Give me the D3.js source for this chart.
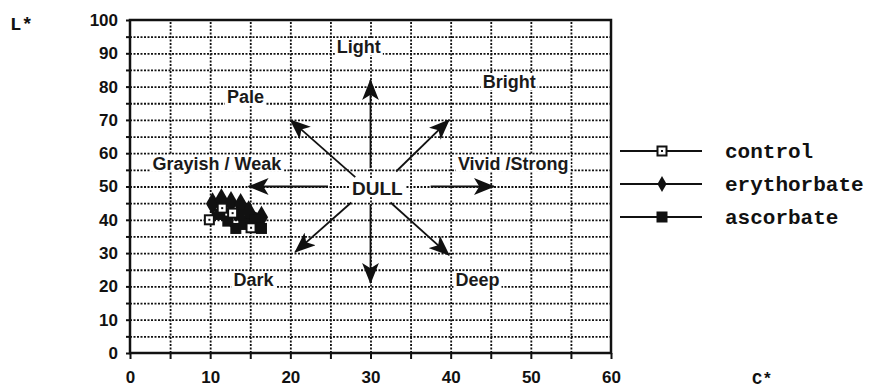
<!DOCTYPE html>
<html>
<head>
<meta charset="utf-8">
<script src="https://cdn.jsdelivr.net/npm/d3@7"></script>
<style>
  body { margin: 0; background: #fff; }
  .tick text { font-family: "Liberation Sans", Arial, sans-serif; font-weight: bold; font-size: 17px; fill: #111; }
  .lab { font-family: "Liberation Sans", Arial, sans-serif; font-weight: bold; font-size: 18px; fill: #1a1a1a; }
  .leg { font-family: "Liberation Mono", "Courier New", monospace; font-weight: bold; font-size: 21px; fill: #111; }
  .grid line { stroke: #111; stroke-width: 1.8; stroke-dasharray: 2,1.5; }
</style>
</head>
<body>
<div class="chart"></div>
<script>
var width = 876, height = 389;
var margin = {top: 20, right: 265, bottom: 36, left: 130};

// axis ticks
var xTicks = [0, 10, 20, 30, 40, 50, 60];
var yTicks = [0, 10, 20, 30, 40, 50, 60, 70, 80, 90, 100];

// measured points (C*, L*)
var controlPts = [[9.9, 40.0], [11.5, 43.5], [12.8, 42.0], [15.1, 37.6]];
var erythorbatePts = [[10.3, 44.8], [11.4, 46.0], [12.6, 45.2], [13.8, 44.6], [14.8, 42.4], [16.4, 40.8]];
var ascorbatePts = [[11.2, 41.6], [12.2, 39.6], [13.2, 37.4], [14.2, 38.6], [15.6, 39.8], [16.4, 37.4], [13.6, 41.4]];

// colour-direction arrows: start and tip (C*, L*)
var arrows = [
  [[30, 55.5], [30, 82]],
  [[30, 44.5], [30, 21]],
  [[24.7, 50], [14.8, 50]],
  [[37.5, 50], [45.4, 50]],
  [[28.1, 52.8], [20, 70]],
  [[33.2, 54.5], [39.8, 70]],
  [[27.6, 45.2], [20.6, 30.3]],
  [[32.5, 45.2], [39.8, 29.4]]
];

// region names: text, C* start, L* baseline
var regionNames = ['Light', 'Bright', 'Pale', 'Grayish / Weak', 'Vivid /Strong', 'DULL', 'Dark', 'Deep'];
var regionC = [25.8, 44.0, 12.1, 2.8, 40.9, 27.7, 12.9, 40.6];
var regionL = [90, 79.5, 75, 55, 55, 47.4, 20, 20];

var seriesNames = ['control', 'erythorbate', 'ascorbate'];

var svg = d3.select('.chart')
  .append('svg')
  .attr('width', width)
  .attr('height', height);

var x = d3.scaleLinear().domain([0, 60]).range([margin.left, width - margin.right]);
var y = d3.scaleLinear().domain([0, 100]).range([height - margin.bottom, margin.top]);

// GRID
svg.append('g')
  .attr('class', 'grid')
  .attr('transform', 'translate(0,' + y(0) + ')')
  .call(d3.axisBottom(x).tickValues(d3.range(5, 60, 5)).tickSize(-(y(0) - y(100))).tickFormat(''))
  .call(g => g.select('.domain').remove());

svg.append('g')
  .attr('class', 'grid')
  .attr('transform', 'translate(' + x(0) + ',0)')
  .call(d3.axisLeft(y).tickValues(d3.range(5, 100, 5)).tickSize(-(x(60) - x(0))).tickFormat(''))
  .call(g => g.select('.domain').remove());

// AXES
var xAxis = svg.append('g')
  .attr('transform', 'translate(0,' + y(0) + ')')
  .call(d3.axisBottom(x).tickValues(d3.range(0, 61, 5)).tickSize(6).tickPadding(12)
    .tickFormat(d => xTicks.indexOf(d) >= 0 ? d : ''));
xAxis.select('.domain').remove();
xAxis.selectAll('line').attr('stroke', '#111').attr('stroke-width', 2);

var yAxis = svg.append('g')
  .attr('transform', 'translate(' + x(0) + ',0)')
  .call(d3.axisLeft(y).tickValues(d3.range(0, 101, 5)).tickSize(4).tickPadding(8)
    .tickFormat(d => yTicks.indexOf(d) >= 0 ? d : ''));
yAxis.select('.domain').remove();
yAxis.selectAll('line').attr('stroke', '#111').attr('stroke-width', 2);

svg.append('rect')
  .attr('x', x(0)).attr('y', y(100))
  .attr('width', x(60) - x(0)).attr('height', y(0) - y(100))
  .attr('fill', 'none').attr('stroke', '#111').attr('stroke-width', 2.5);

svg.append('text').attr('class', 'leg').attr('x', 10).attr('y', 30).style('font-size', '19px').text('L*');
svg.append('text').attr('class', 'leg').attr('x', 752).attr('y', 384).style('font-size', '17px').text('C*');

// ARROWS
svg.append('defs').append('marker')
  .attr('id', 'head')
  .attr('viewBox', '0 0 20 16')
  .attr('refX', 19).attr('refY', 8)
  .attr('markerWidth', 21).attr('markerHeight', 17)
  .attr('markerUnits', 'userSpaceOnUse')
  .attr('orient', 'auto')
  .append('path')
  .attr('d', 'M0,0 L20,8 L0,16 L5,8 Z')
  .attr('fill', '#111');

svg.selectAll('.arrow')
  .data(arrows)
  .enter()
  .append('line')
  .attr('class', 'arrow')
  .attr('x1', d => x(d[0][0])).attr('y1', d => y(d[0][1]))
  .attr('x2', d => x(d[1][0])).attr('y2', d => y(d[1][1]))
  .attr('stroke', '#111').attr('stroke-width', 1.8)
  .attr('marker-end', 'url(#head)');

// REGION LABELS
var labels = svg.selectAll('.labg')
  .data(regionNames)
  .enter()
  .append('g')
  .attr('class', 'labg');

labels.append('text')
  .attr('class', 'lab')
  .attr('x', (d, i) => x(regionC[i]))
  .attr('y', (d, i) => y(regionL[i]))
  .style('font-size', (d, i) => d === 'DULL' ? '19px' : '18px')
  .text(d => d);

labels.each(function() {
  var g = d3.select(this);
  var b = g.select('text').node().getBBox();
  g.insert('rect', 'text')
    .attr('x', b.x - 2).attr('y', b.y + 1)
    .attr('width', b.width + 4).attr('height', b.height - 3)
    .attr('fill', '#fff');
});

// DATA
function marker(sel, kind, s) {
  if (kind === 0) {
    sel.append('rect').attr('x', -s / 2).attr('y', -s / 2).attr('width', s).attr('height', s)
      .attr('fill', '#fff').attr('stroke', '#111').attr('stroke-width', 2);
    sel.append('rect').attr('x', -1).attr('y', -1).attr('width', 2).attr('height', 2).attr('fill', '#111');
  } else if (kind === 1) {
    sel.append('path').attr('d', d3.symbol(d3.symbolDiamond, s * s * 0.9)).attr('fill', '#111');
  } else {
    sel.append('rect').attr('x', -s / 2).attr('y', -s / 2).attr('width', s).attr('height', s).attr('fill', '#111');
  }
}

var line = d3.line().x(d => x(d[0])).y(d => y(d[1]));
[erythorbatePts, ascorbatePts, controlPts].forEach(function(pts) {
  svg.append('path').attr('d', line(pts)).attr('fill', 'none').attr('stroke', '#111').attr('stroke-width', 5);
});

[[erythorbatePts, 1], [ascorbatePts, 2], [controlPts, 0]].forEach(function(s) {
  svg.selectAll(null)
    .data(s[0])
    .enter()
    .append('g')
    .attr('transform', d => 'translate(' + x(d[0]) + ',' + y(d[1]) + ')')
    .each(function() { marker(d3.select(this), s[1], s[1] === 1 ? 13 : (s[1] === 2 ? 11 : 9)); });
});

// LEGEND
var legY = [151, 184, 217];
var leg = svg.selectAll('.legend')
  .data(seriesNames)
  .enter()
  .append('g')
  .attr('class', 'legend')
  .attr('transform', (d, i) => 'translate(0,' + legY[i] + ')');

leg.append('line').attr('x1', 620).attr('x2', 702).attr('stroke', '#111').attr('stroke-width', 2);
leg.append('g').attr('transform', 'translate(662,0)')
  .each(function(d, i) { marker(d3.select(this), i, i === 2 ? 11 : 9); });
leg.append('text').attr('class', 'leg').attr('x', 725).attr('y', 7).text(d => d);
</script>
</body>
</html>
